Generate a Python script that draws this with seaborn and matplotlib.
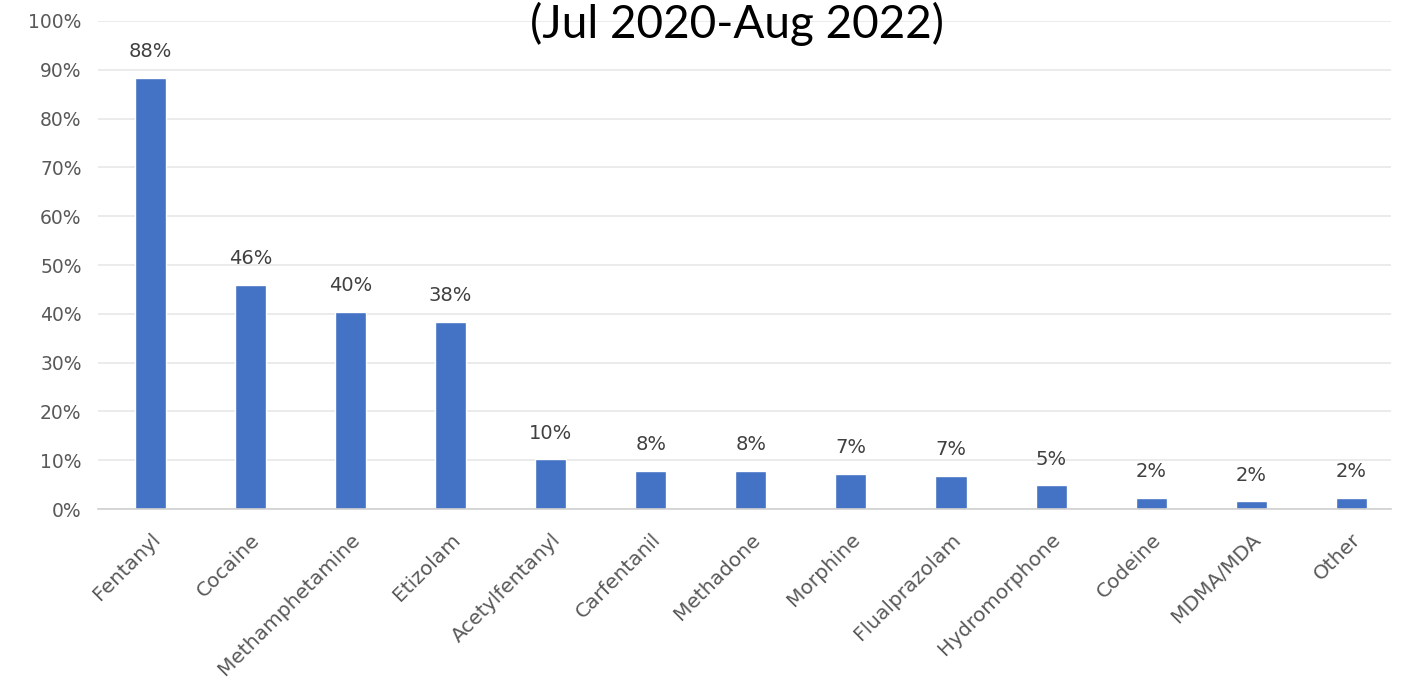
import matplotlib
matplotlib.use("Agg")
import matplotlib.pyplot as plt
import pandas as pd
import seaborn as sns
from matplotlib.ticker import PercentFormatter

drugs = ["Fentanyl", "Cocaine", "Methamphetamine", "Etizolam", "Acetylfentanyl",
         "Carfentanil", "Methadone", "Morphine", "Flualprazolam", "Hydromorphone",
         "Codeine", "MDMA/MDA", "Other"]
shares = [0.883, 0.460, 0.404, 0.383, 0.102, 0.078, 0.078, 0.072, 0.068, 0.049,
          0.023, 0.016, 0.023]
bar_labels = ["88%", "46%", "40%", "38%", "10%", "8%", "8%", "7%", "7%", "5%",
              "2%", "2%", "2%"]

df = pd.DataFrame({"drug": drugs, "share": shares})

sns.set_style("white")
plt.rcParams["font.family"] = ["DejaVu Sans"]

fig = plt.figure(figsize=(14.04, 6.88), dpi=100)
ax = fig.add_axes([0.070, 0.260, 0.921, 0.7095])

sns.barplot(data=df, x="drug", y="share", color="#4472C4", saturation=1,
            width=0.31, ax=ax)

ax.set_ylim(0, 1)
ax.set_xlim(-0.52, 12.4)
ax.yaxis.set_major_formatter(PercentFormatter(1.0, decimals=0))
ax.set_yticks([i / 10 for i in range(11)])
ax.grid(axis="y", color="#e8e8e8", linewidth=1.2)
ax.set_axisbelow(True)
for s in ["top", "right", "left"]:
    ax.spines[s].set_visible(False)
ax.spines["bottom"].set_color("#d0d0d0")
ax.spines["bottom"].set_linewidth(1.2)
ax.tick_params(axis="y", length=0, colors="#595959", labelsize=13.5, pad=12)
ax.tick_params(axis="x", length=0, colors="#595959", labelsize=14.5, pad=15)
ax.set_xlabel("")
ax.set_ylabel("")
plt.setp(ax.get_xticklabels(), rotation=45, ha="right", rotation_mode="anchor")

ax.bar_label(ax.containers[0], labels=bar_labels, padding=12, fontsize=14,
             color="#404040")

fig.text(0.525, 1 - 38 / 688, "(Jul 2020-Aug 2022)", ha="center", va="baseline",
         fontsize=33, color="black", family=["Lato", "DejaVu Sans"])

fig.savefig("out.png", dpi=100, facecolor="white")
